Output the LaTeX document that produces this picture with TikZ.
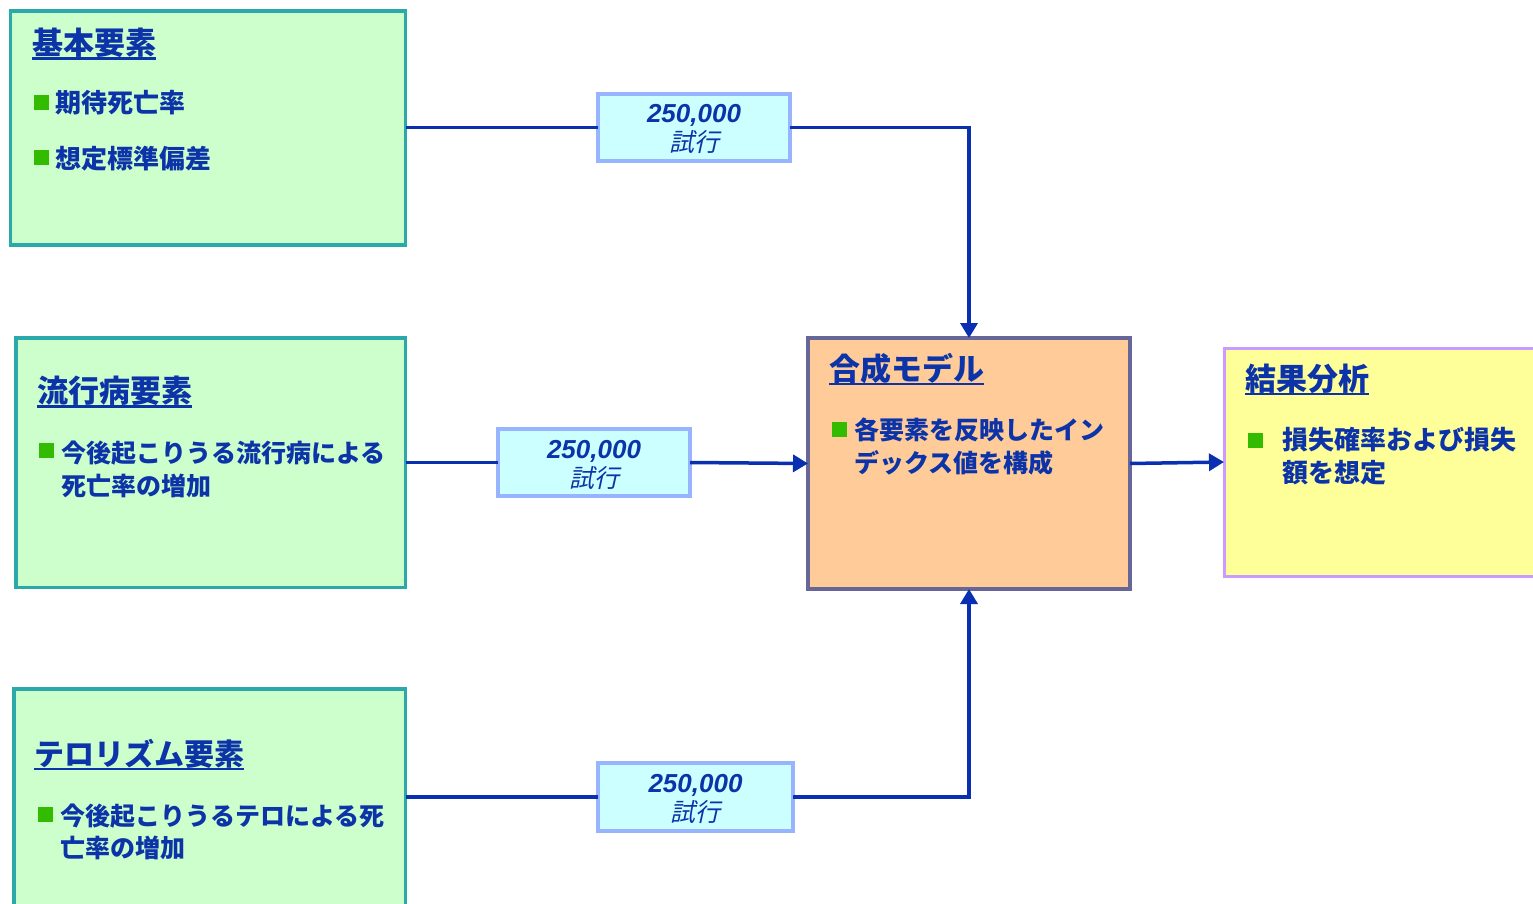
\documentclass[tikz,border=0pt]{standalone}
\usepackage{fontspec}
\setmainfont{Liberation Sans}
\newfontfamily\jp{Noto Sans CJK JP}
\newfontfamily\jpit{Noto Sans CJK JP}[FakeSlant=0.22]
\usetikzlibrary{arrows.meta}
\definecolor{ink}{RGB}{12,52,168}
\definecolor{linecol}{RGB}{8,48,176}
\definecolor{elemfill}{RGB}{204,255,204}
\definecolor{elemdraw}{RGB}{42,168,170}
\definecolor{modfill}{RGB}{255,204,153}
\definecolor{moddraw}{RGB}{102,102,153}
\definecolor{resfill}{RGB}{255,255,153}
\definecolor{resdraw}{RGB}{204,153,255}
\definecolor{lblfill}{RGB}{204,255,255}
\definecolor{lbldraw}{RGB}{153,180,255}
\definecolor{bulgreen}{RGB}{51,187,0}
\begin{document}
\begin{tikzpicture}[x=1pt,y=-1pt,
  panel/.style={draw, line width=3.5pt, anchor=north west, inner sep=0pt, outer sep=0pt},
  elem/.style={panel, fill=elemfill, draw=elemdraw},
  lbl/.style={draw=lbldraw, fill=lblfill, line width=3.2pt, anchor=north west, inner sep=0pt, outer sep=0pt},
  ttl/.style={font=\jp\bfseries\fontsize{31}{31}\selectfont, text=ink, inner sep=0pt, anchor=base west},
  bodytxt/.style={font=\jp\bfseries\fontsize{25}{25}\selectfont, text=ink, inner sep=0pt, anchor=base west},
  bul/.style={fill=bulgreen, minimum size=15pt, inner sep=0pt},
  numtxt/.style={font=\bfseries\itshape\fontsize{26}{26}\selectfont, text=ink, inner sep=0pt, anchor=base},
  trytxt/.style={font=\jpit\fontsize{25}{25}\selectfont, text=ink, inner sep=0pt, anchor=base},
  uline/.style={draw=ink, line width=2.5pt},
  conn/.style={draw=linecol, line width=3.5pt},
  arr/.style={conn, -{Triangle[length=15pt,width=17pt]}}]
\useasboundingbox (0,0) rectangle (1533,904);
\begin{scope}
\clip (0,0) rectangle (1533,904);
% element boxes
\node[elem, minimum width=395pt, minimum height=234pt] (b1) at (10.5,11) {};
\node[elem, minimum width=389.5pt, minimum height=249.5pt] (b2) at (16,338) {};
\node[elem, minimum width=391.5pt, minimum height=280pt] (b3) at (14,689) {};
\node[panel, fill=modfill, draw=moddraw, minimum width=322pt, minimum height=251pt] (cm) at (808,338) {};
\node[panel, fill=resfill, draw=resdraw, line width=3pt, minimum width=376pt, minimum height=228pt] (rb) at (1224,348) {};
\end{scope}
% trial labels
\node[lbl, minimum width=192pt, minimum height=67pt] (l1) at (598,94) {};
\node[lbl, minimum width=192pt, minimum height=67pt] (l2) at (498,429) {};
\node[lbl, minimum width=195pt, minimum height=68pt] (l3) at (598,763) {};
\node[numtxt] (l1a) at ([yshift=4.5pt]l1.center) {250,000};
\node[trytxt] (l1b) at ([yshift=-24.5pt]l1.center) {試行};
\node[numtxt] (l2a) at ([yshift=4.5pt]l2.center) {250,000};
\node[trytxt] (l2b) at ([yshift=-24.5pt]l2.center) {試行};
\node[numtxt] (l3a) at ([yshift=4.5pt]l3.center) {250,000};
\node[trytxt] (l3b) at ([yshift=-24.5pt]l3.center) {試行};
% box 1 text
\node[ttl] (t1) at (32,54.5) {基本要素};
\draw[uline] ([yshift=-4pt]t1.base west) -- ([yshift=-4pt]t1.base east);
\node[bul] (q1a) at (41,102.5) {};
\node[bodytxt, font=\jp\bfseries\fontsize{26}{26}\selectfont] (s1a) at (55,113) {期待死亡率};
\node[bul] (q1b) at (41,157.5) {};
\node[bodytxt, font=\jp\bfseries\fontsize{26}{26}\selectfont] (s1b) at (55,168.5) {想定標準偏差};
% box 2 text
\node[ttl] (t2) at (37,402.5) {流行病要素};
\draw[uline] ([yshift=-4pt]t2.base west) -- ([yshift=-4pt]t2.base east);
\node[bul] (q2) at (46.5,450.5) {};
\node[bodytxt] (s2a) at (61,462.5) {今後起こりうる流行病による};
\node[bodytxt] (s2b) at (61,495.5) {死亡率の増加};
% box 3 text
\node[ttl, font=\jp\bfseries\fontsize{30}{30}\selectfont] (t3) at (34,765) {テロリズム要素};
\draw[uline] ([yshift=-4pt]t3.base west) -- ([yshift=-4pt]t3.base east);
\node[bul] (q3) at (45,814.5) {};
\node[bodytxt] (s3a) at (60,825.5) {今後起こりうるテロによる死};
\node[bodytxt] (s3b) at (60,857) {亡率の増加};
% model text
\node[ttl] (t4) at (829,380) {合成モデル};
\draw[uline] ([yshift=-4pt]t4.base west) -- ([yshift=-4pt]t4.base east);
\node[bul] (q4) at (839.5,429.5) {};
\node[bodytxt] (s4a) at (854,439.5) {各要素を反映したイン};
\node[bodytxt] (s4b) at (854,472.5) {デックス値を構成};
% result text
\node[ttl] (t5) at (1245,390) {結果分析};
\draw[uline] ([yshift=-4pt]t5.base west) -- ([yshift=-4pt]t5.base east);
\node[bul] (q5) at (1255.5,440) {};
\node[bodytxt, font=\jp\bfseries\fontsize{26}{26}\selectfont] (s5a) at (1282,449.5) {損失確率および損失};
\node[bodytxt, font=\jp\bfseries\fontsize{26}{26}\selectfont] (s5b) at (1282,482.5) {額を想定};
% connectors
\draw[conn] (b1.east |- l1.west) -- (l1.west);
\draw[arr] (l1.east) -| (cm.north);
\draw[conn] (b2.east |- l2.west) -- (l2.west);
\draw[arr] (l2.east) -- (cm.west);
\draw[conn] (b3.east |- l3.west) -- (l3.west);
\draw[arr] (l3.east) -| (cm.south);
\draw[arr] (cm.east) -- (rb.west);
\end{tikzpicture}
\end{document}
